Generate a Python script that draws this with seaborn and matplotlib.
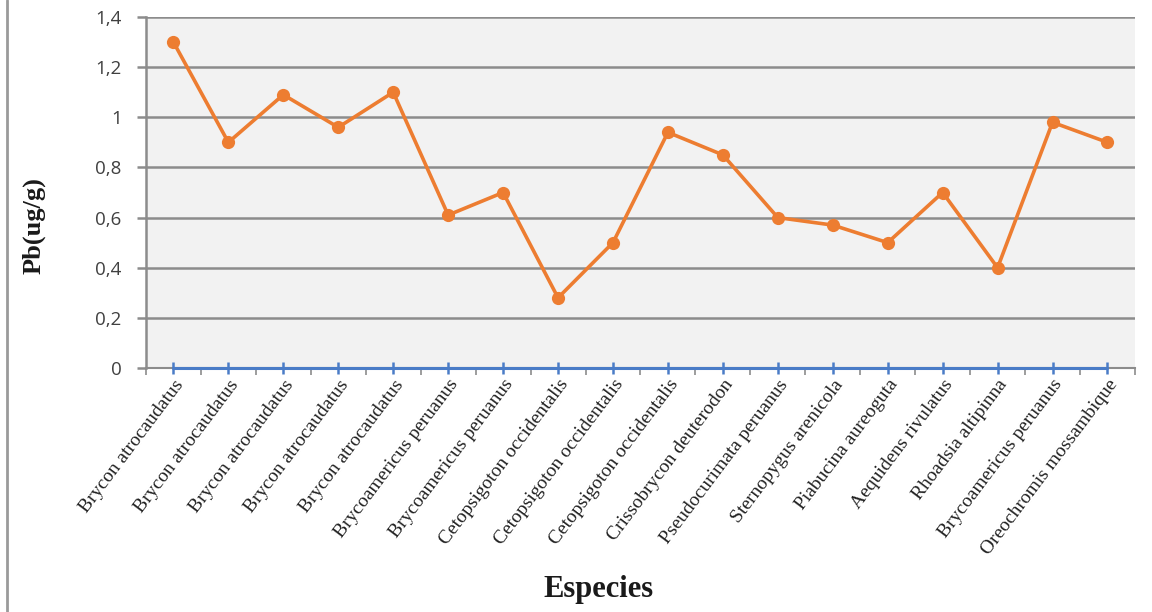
import matplotlib
matplotlib.use("Agg")
import matplotlib.pyplot as plt
import seaborn as sns
import numpy as np
import pandas as pd

# Species sampled and lead concentration (ug/g)
species = [
    "Brycon atrocaudatus", "Brycon atrocaudatus", "Brycon atrocaudatus",
    "Brycon atrocaudatus", "Brycon atrocaudatus", "Brycoamericus peruanus",
    "Brycoamericus peruanus", "Cetopsigoton occidentalis", "Cetopsigoton occidentalis",
    "Cetopsigoton occidentalis", "Crissobrycon deuterodon", "Pseudocurimata peruanus",
    "Sternopygus arenicola", "Piabucina aureoguta", "Aequidens rivulatus",
    "Rhoadsia altipinna", "Brycoamericus peruanus", "Oreochromis mossambique",
]
pb_values = [1.30, 0.90, 1.09, 0.96, 1.10, 0.61, 0.70, 0.28, 0.50,
             0.94, 0.85, 0.60, 0.57, 0.50, 0.70, 0.40, 0.98, 0.90]
baseline_values = [0.0] * len(species)
y_ticks = [0, 0.2, 0.4, 0.6, 0.8, 1.0, 1.2, 1.4]
y_tick_labels = ["0", "0,2", "0,4", "0,6", "0,8", "1", "1,2", "1,4"]

df = pd.DataFrame({"pos": np.arange(len(species)), "Pb": pb_values,
                   "base": baseline_values})

sns.set_style("white")
fig = plt.figure(figsize=(11.52, 6.12), dpi=100)
ax = fig.add_axes([0.1267, 0.3987, 0.8585, 0.5735])
ax.set_facecolor("#f2f2f2")

# horizontal gridlines
for yt in y_ticks[1:]:
    ax.axhline(yt, color="#8c8c8c", lw=1.8, zorder=1)

blue = "#4a7cc7"
sns.lineplot(data=df, x="pos", y="base", ax=ax, color=blue, lw=2.2,
             marker="|", markersize=9, markeredgewidth=1.8, markeredgecolor=blue,
             zorder=5, clip_on=False)
sns.lineplot(data=df, x="pos", y="Pb", ax=ax, color="#ed7d31", lw=2.6,
             marker="o", markersize=9.5, markeredgewidth=0, zorder=6)

ax.set_xlim(-0.5, len(species) - 0.5)
ax.set_ylim(0, 1.4)

for side in ["top", "right"]:
    ax.spines[side].set_visible(False)
ax.spines["left"].set_color("#8c8c8c")
ax.spines["left"].set_linewidth(1.8)
ax.spines["bottom"].set_color("#8c8c8c")
ax.spines["bottom"].set_linewidth(1.5)

ax.set_yticks(y_ticks)
ax.set_yticklabels(y_tick_labels, fontsize=13.5, color="#404040",
                   family="Open Sans")
ax.tick_params(axis="y", length=6.5, width=1.8, color="#8c8c8c", pad=11, left=True)

ax.set_xticks(np.arange(len(species)))
ax.set_xticks(np.arange(-0.5, len(species)), minor=True)
ax.set_xticklabels(species, rotation=53, ha="right", va="top",
                   rotation_mode="anchor", fontsize=14, family="Liberation Serif",
                   color="#222222")
ax.tick_params(axis="x", which="major", length=0, pad=6, bottom=True)
ax.tick_params(axis="x", which="minor", length=5, width=1.2, color="#8c8c8c",
               bottom=True)

ax.set_xlabel("")
ax.set_ylabel("")
fig.text(598 / 1152, 1 - 590 / 612, "Especies", ha="center", va="center",
         fontsize=22, fontweight="bold", family="Liberation Serif", color="#1a1a1a")
fig.text(34 / 1152, 1 - 226 / 612, "Pb(ug/g)", ha="center", va="center", rotation=90,
         fontsize=19, fontweight="bold", family="Liberation Serif", color="#1a1a1a")

# chart frame on the left
fig.add_artist(plt.Line2D([0.0065, 0.0065], [0, 1], color="#9a9a9a", lw=2,
                          transform=fig.transFigure))

fig.savefig("out.png", dpi=100)
